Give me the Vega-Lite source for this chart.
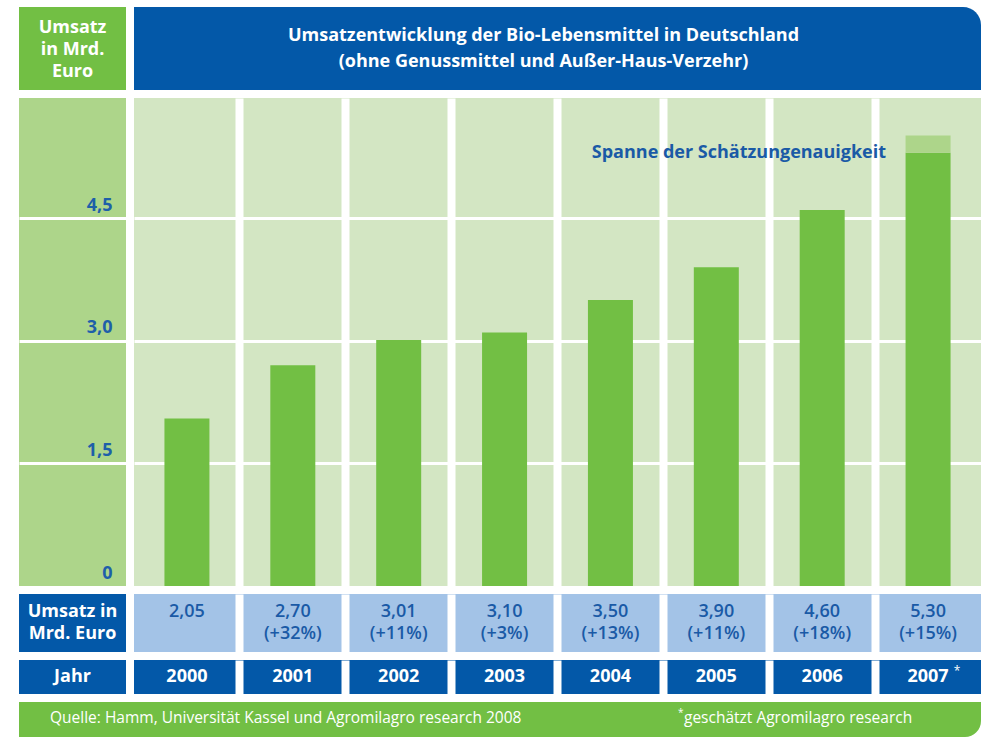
{
  "$schema": "https://vega.github.io/schema/vega-lite/v6.json",
  "background": "#ffffff",
  "padding": {"left": 19, "top": 7, "right": 0, "bottom": 0},
  "config": {
    "view": {"stroke": null},
    "font": "Open Sans",
    "locale": {"number": {"decimal": ",", "thousands": ".", "grouping": [3], "currency": ["", " €"]}},
    "axis": {"minExtent": 0, "maxExtent": 0}
  },
  "datasets": {
    "umsatz": [
      {"jahr": "2000", "umsatz": 2.05, "veraenderung": "", "fussnote": ""},
      {"jahr": "2001", "umsatz": 2.70, "veraenderung": "(+32%)", "fussnote": ""},
      {"jahr": "2002", "umsatz": 3.01, "veraenderung": "(+11%)", "fussnote": ""},
      {"jahr": "2003", "umsatz": 3.10, "veraenderung": "(+3%)", "fussnote": ""},
      {"jahr": "2004", "umsatz": 3.50, "veraenderung": "(+13%)", "fussnote": ""},
      {"jahr": "2005", "umsatz": 3.90, "veraenderung": "(+11%)", "fussnote": ""},
      {"jahr": "2006", "umsatz": 4.60, "veraenderung": "(+18%)", "fussnote": ""},
      {"jahr": "2007", "umsatz": 5.30, "veraenderung": "(+15%)", "fussnote": "*"}
    ],
    "spanne": [
      {"jahr": "2007", "von": 5.30, "bis": 5.51, "bezeichnung": "Spanne der Schätzungenauigkeit"}
    ],
    "beschriftung": [
      {
        "einheit": ["Umsatz", "in Mrd.", "Euro"],
        "titel": ["Umsatzentwicklung der Bio-Lebensmittel in Deutschland", "(ohne Genussmittel und Außer-Haus-Verzehr)"],
        "zeile_umsatz": ["Umsatz in", "Mrd. Euro"],
        "zeile_jahr": "Jahr",
        "quelle": "Quelle: Hamm, Universität Kassel und Agromilagro research 2008",
        "stern": "*",
        "hinweis": "geschätzt Agromilagro research"
      }
    ]
  },
  "spacing": 8,
  "vconcat": [
    {
      "spacing": 8,
      "hconcat": [
        {
          "width": 107, "height": 83,
          "view": {"fill": "#72bf44", "stroke": null},
          "data": {"name": "beschriftung"},
          "mark": {"type": "text", "color": "#ffffff", "fontWeight": "bold", "fontSize": 18, "lineHeight": 22, "align": "center", "baseline": "middle", "dy": -21},
          "encoding": {"text": {"field": "einheit"}}
        },
        {
          "width": 847, "height": 83,
          "data": {"name": "beschriftung"},
          "layer": [
            {"mark": {"type": "rect", "color": "#0358a8", "cornerRadiusTopRight": 18}, "encoding": {}},
            {
              "mark": {"type": "text", "color": "#ffffff", "fontWeight": "bold", "fontSize": 18, "lineHeight": 26, "align": "center", "baseline": "middle", "dx": -14, "dy": -13},
              "encoding": {"text": {"field": "titel"}}
            }
          ]
        }
      ]
    },
    {
      "spacing": 8,
      "hconcat": [
        {
          "width": 107, "height": 488,
          "view": {"fill": "#add58a", "stroke": null},
          "data": {"name": "umsatz"},
          "mark": {"type": "point", "opacity": 0},
          "encoding": {
            "y": {
              "field": "umsatz", "type": "quantitative",
              "scale": {"domain": [0, 5.97], "nice": false},
              "axis": {
                "title": null, "orient": "left", "values": [0, 1.5, 3, 4.5], "format": ".1f",
                "labelExpr": "datum.value === 0 ? '0' : datum.label",
                "labelPadding": -93, "labelAlign": "right", "labelBaseline": "alphabetic", "labelOffset": -8,
                "labelFlush": false, "labelOverlap": false,
                "labelColor": "#1e5fa9", "labelFont": "Open Sans", "labelFontSize": 18, "labelFontWeight": "bold",
                "ticks": false, "domain": false,
                "grid": true, "gridColor": "#ffffff", "gridWidth": 3,
                "gridOpacity": {"condition": {"test": "datum.value === 0", "value": 0}, "value": 1}
              }
            }
          }
        },
        {
          "width": 847, "height": 488,
          "view": {"fill": "#d3e6c3", "stroke": null},
          "encoding": {
            "x": {
              "field": "jahr", "type": "ordinal",
              "scale": {"type": "band", "paddingInner": 0, "paddingOuter": 0},
              "axis": {"title": null, "labels": false, "ticks": false, "domain": false, "grid": true, "gridColor": "#ffffff", "gridWidth": 8, "bandPosition": 0, "values": ["2001", "2002", "2003", "2004", "2005", "2006", "2007"]}
            }
          },
          "layer": [
            {
              "data": {"name": "umsatz"},
              "mark": {"type": "bar", "color": "#72bf44", "width": {"band": 0.425}},
              "encoding": {
                "y": {
                  "field": "umsatz", "type": "quantitative",
                  "scale": {"domain": [0, 5.97], "nice": false},
                  "axis": {"title": null, "labels": false, "ticks": false, "domain": false, "grid": true, "gridColor": "#ffffff", "gridWidth": 3, "values": [1.5, 3, 4.5]}
                }
              }
            },
            {
              "data": {"name": "spanne"},
              "mark": {"type": "bar", "color": "#add58a", "width": {"band": 0.425}},
              "encoding": {
                "y": {
                  "field": "von", "type": "quantitative",
                  "axis": {"title": null, "labels": false, "ticks": false, "domain": false, "grid": true, "gridColor": "#ffffff", "gridWidth": 3, "values": [1.5, 3, 4.5]}
                },
                "y2": {"field": "bis"}
              }
            },
            {
              "data": {"name": "spanne"},
              "mark": {"type": "text", "align": "right", "baseline": "middle", "dx": -42, "color": "#1a5aa6", "fontWeight": "bold", "fontSize": 18},
              "encoding": {
                "y": {
                  "field": "von", "type": "quantitative",
                  "axis": {"title": null, "labels": false, "ticks": false, "domain": false, "grid": true, "gridColor": "#ffffff", "gridWidth": 3, "values": [1.5, 3, 4.5]}
                },
                "text": {"field": "bezeichnung"}
              }
            }
          ]
        }
      ]
    },
    {
      "spacing": 8,
      "hconcat": [
        {
          "width": 107, "height": 58,
          "view": {"fill": "#0358a8", "stroke": null},
          "data": {"name": "beschriftung"},
          "mark": {"type": "text", "color": "#ffffff", "fontWeight": "bold", "fontSize": 18, "lineHeight": 22, "align": "center", "baseline": "middle", "dy": -11},
          "encoding": {"text": {"field": "zeile_umsatz"}}
        },
        {
          "width": 847, "height": 58,
          "view": {"fill": "#a3c3e7", "stroke": null},
          "data": {"name": "umsatz"},
          "encoding": {
            "x": {
              "field": "jahr", "type": "ordinal",
              "scale": {"type": "band", "paddingInner": 0, "paddingOuter": 0},
              "axis": {"title": null, "labels": false, "ticks": false, "domain": false, "grid": true, "gridColor": "#ffffff", "gridWidth": 8, "bandPosition": 0, "values": ["2001", "2002", "2003", "2004", "2005", "2006", "2007"]}
            }
          },
          "layer": [
            {
              "mark": {"type": "text", "baseline": "middle", "dy": -11, "color": "#1a5aa6", "fontSize": 18, "fontWeight": 600},
              "encoding": {"text": {"field": "umsatz", "type": "quantitative", "format": ".2f"}}
            },
            {
              "mark": {"type": "text", "baseline": "middle", "dy": 11, "color": "#1a5aa6", "fontSize": 18, "fontWeight": 600},
              "encoding": {"text": {"field": "veraenderung"}}
            }
          ]
        }
      ]
    },
    {
      "spacing": 8,
      "hconcat": [
        {
          "width": 107, "height": 34,
          "view": {"fill": "#0358a8", "stroke": null},
          "data": {"name": "beschriftung"},
          "mark": {"type": "text", "color": "#ffffff", "fontWeight": "bold", "fontSize": 18, "align": "center", "baseline": "middle"},
          "encoding": {"text": {"field": "zeile_jahr"}}
        },
        {
          "width": 847, "height": 34,
          "view": {"fill": "#0358a8", "stroke": null},
          "data": {"name": "umsatz"},
          "encoding": {
            "x": {
              "field": "jahr", "type": "ordinal",
              "scale": {"type": "band", "paddingInner": 0, "paddingOuter": 0},
              "axis": {"title": null, "labels": false, "ticks": false, "domain": false, "grid": true, "gridColor": "#ffffff", "gridWidth": 8, "bandPosition": 0, "values": ["2001", "2002", "2003", "2004", "2005", "2006", "2007"]}
            }
          },
          "layer": [
            {
              "mark": {"type": "text", "baseline": "middle", "color": "#ffffff", "fontWeight": "bold", "fontSize": 18},
              "encoding": {"text": {"field": "jahr"}}
            },
            {
              "mark": {"type": "text", "baseline": "middle", "dx": 29, "dy": -6, "color": "#ffffff", "fontSize": 12},
              "encoding": {"text": {"field": "fussnote"}}
            }
          ]
        }
      ]
    },
    {
      "width": 962, "height": 35,
      "data": {"name": "beschriftung"},
      "layer": [
        {"mark": {"type": "rect", "color": "#72bf44", "cornerRadiusBottomRight": 16}, "encoding": {}},
        {
          "mark": {"type": "text", "align": "left", "baseline": "middle", "dx": -450, "dy": -2, "color": "#ffffff", "fontSize": 15.5},
          "encoding": {"text": {"field": "quelle"}}
        },
        {
          "mark": {"type": "text", "align": "left", "baseline": "middle", "dx": 178, "dy": -7, "color": "#ffffff", "fontSize": 10},
          "encoding": {"text": {"field": "stern"}}
        },
        {
          "mark": {"type": "text", "align": "left", "baseline": "middle", "dx": 184, "dy": -2, "color": "#ffffff", "fontSize": 15.5},
          "encoding": {"text": {"field": "hinweis"}}
        }
      ]
    }
  ]
}
